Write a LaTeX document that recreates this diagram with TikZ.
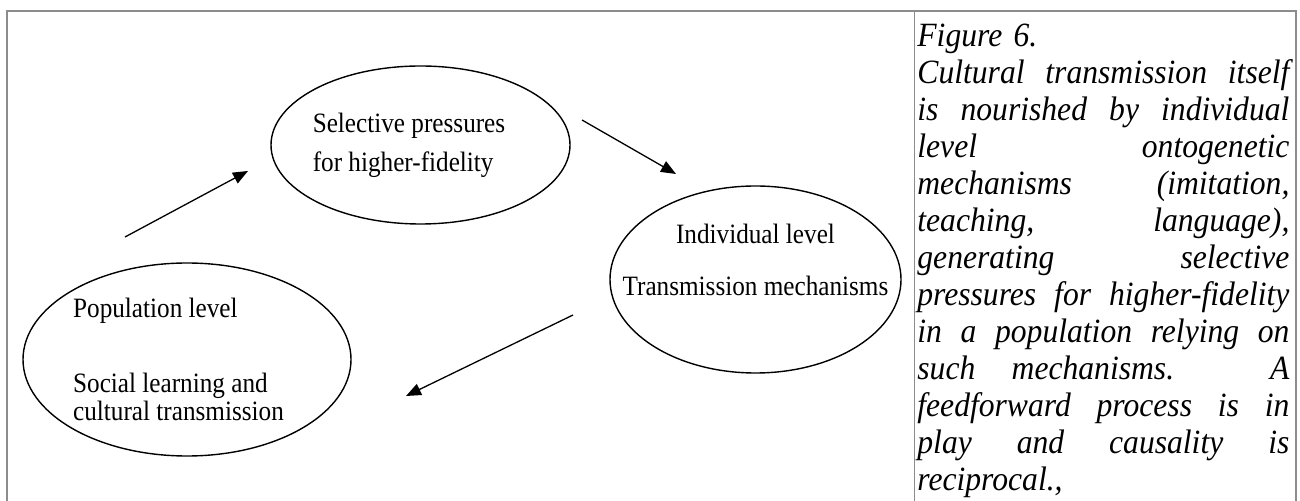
\documentclass[tikz,border=0pt]{standalone}
\usepackage{fontspec}
\setmainfont{Liberation Serif}
\newfontfamily\narrowserif[FakeStretch=0.9]{Liberation Serif}
\newfontfamily\narrowitalic[FakeStretch=0.93]{Liberation Serif Italic}
\usetikzlibrary{arrows.meta,shapes.geometric,positioning}

% one justified line of the caption
\newlength{\capwidth}
\setlength{\capwidth}{186pt}
\newcommand{\capline}[1]{{\spaceskip=0pt\xspaceskip=0pt\makebox[\capwidth][s]{#1}}}

\begin{document}
\begin{tikzpicture}[x=0.5pt, y=-0.5pt,
    % ellipses and their texts
    bubble/.style={ellipse, draw, line width=0.7pt, inner sep=0pt},
    bubble text/.style={inner sep=0pt, font=\narrowserif\fontsize{14}{15.5}\selectfont},
    % arrows between the ellipses
    push/.style={draw, line width=0.65pt, -{Triangle[length=7.5pt,width=6pt]}},
    % table rules
    rule/.style={draw=black!45, line width=0.6pt},
    caption/.style={inner sep=0pt, anchor=north west, text width=\capwidth, align=left,
        font=\narrowitalic\fontsize{17}{18.5}\selectfont},
  ]
  \useasboundingbox (0,0) rectangle (1300,501);

  % --- table cells ---
  \draw[rule] (7,501) -- (7,11) -- (1296,11) -- (1296,501);
  \draw[rule] (914.7,11) -- (914.7,501);

  % --- ellipses ---
  \node[bubble, minimum width=149.5pt, minimum height=79pt] (select) at (420.5,145) {};
  \node[bubble, minimum width=164pt, minimum height=96.5pt] (pop) at (187,359.5) {};
  \node[bubble, minimum width=145.5pt, minimum height=93.5pt] (indiv) at (755.5,279.5) {};

  \node[bubble text, align=left] (selectlbl) at ([xshift=-5.75pt]select.center)
    {Selective pressures\\[4pt]for higher-fidelity};
  \node[bubble text, align=left] (poplbl) at ([xshift=-4.25pt]pop.center)
    {Population level\\[22pt]Social learning and\\[-1.5pt]cultural transmission};
  \node[bubble text, align=center] (indivlbl) at ([yshift=10pt]indiv.center)
    {Individual level\\[10.5pt]Transmission mechanisms};

  % --- arrows ---
  \coordinate (popout) at (125,237);
  \coordinate (selectin) at (248,171);
  \coordinate (selectout) at (582,120);
  \coordinate (indivin) at (676,174);
  \coordinate (indivout) at (573,315);
  \coordinate (popin) at (406,396);
  \draw[push] (popout) -- (selectin);
  \draw[push] (selectout) -- (indivin);
  \draw[push] (indivout) -- (popin);

  % --- caption cell ---
  \node[caption] (cap) at (917,24) {Figure 6.\\
    \capline{Cultural transmission itself}\\
    \capline{is nourished by individual}\\
    \capline{level ontogenetic}\\
    \capline{mechanisms (imitation,}\\
    \capline{teaching, language),}\\
    \capline{generating selective}\\
    \capline{pressures for higher-fidelity}\\
    \capline{in a population relying on}\\
    \capline{such mechanisms. A}\\
    \capline{feedforward process is in}\\
    \capline{play and causality is}\\
    reciprocal.,};
\end{tikzpicture}
\end{document}
